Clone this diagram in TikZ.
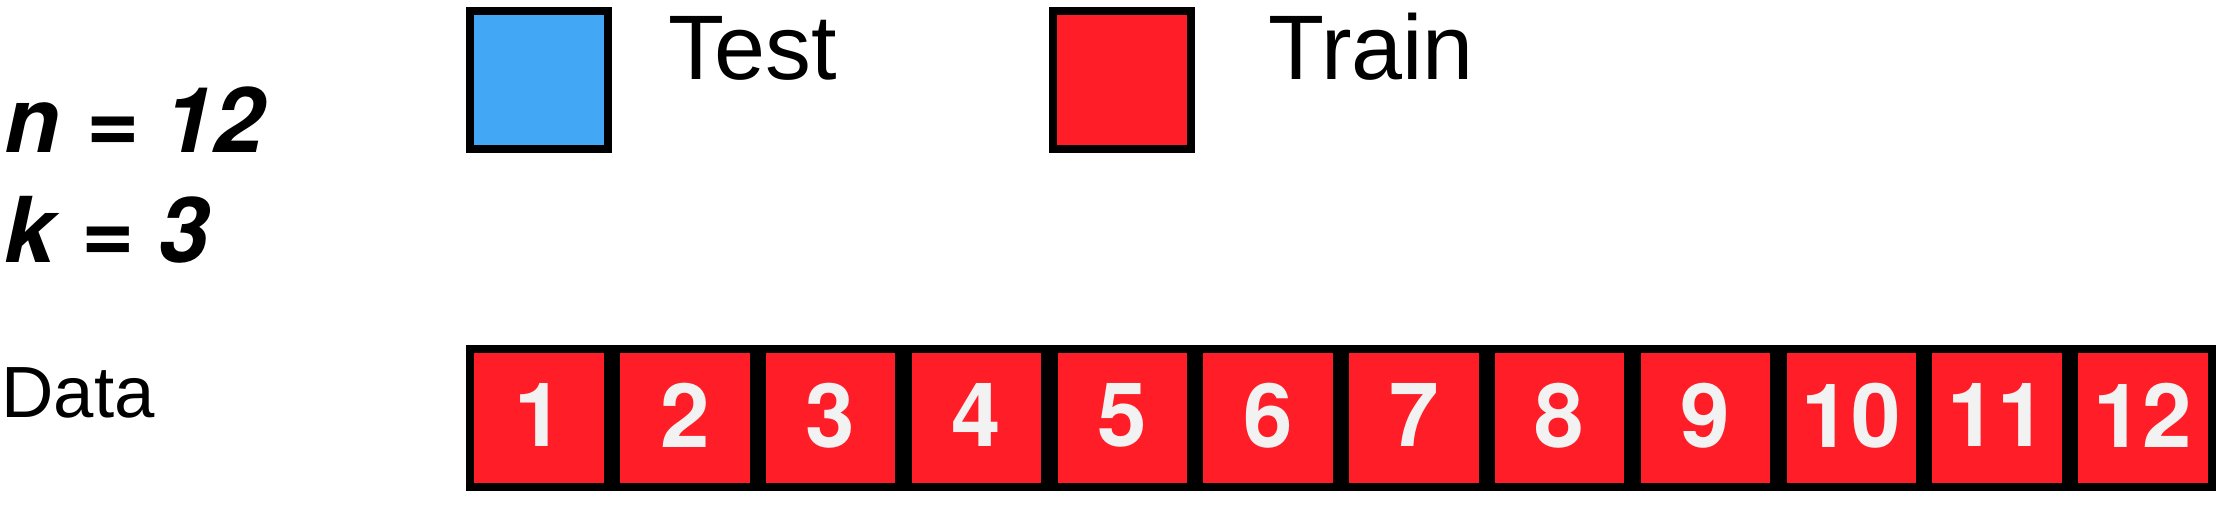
\documentclass[tikz,border=0pt]{standalone}
\usepackage{fontspec}
\setmainfont{Liberation Sans}
\newfontfamily\heros{TeX Gyre Heros}
\usepackage{tikz}
\usetikzlibrary{positioning}
\definecolor{testblue}{HTML}{42A7F5}
\definecolor{trainred}{HTML}{FF1E27}
\definecolor{digitwhite}{HTML}{F2F2F2}
\tikzset{
    cell/.style={
           rectangle,
           draw=black, line width=0.166cm,
           minimum size=2.754cm,
           inner sep=0pt,
           fill=trainred,
           text=digitwhite,
           text depth=0.12cm,
           font=\heros\fontsize{50.6}{60}\selectfont\bfseries,
           },
    keybox/.style={
           cell,
           },
    keytext/.style={
           anchor=base west,
           inner sep=0pt,
           font=\fontsize{52.2}{62}\selectfont,
           },
    param/.style={
           anchor=base west,
           inner sep=0pt,
           font=\heros\fontsize{51.7}{62}\selectfont\bfseries\itshape,
           },
}

\begin{document}
\begin{tikzpicture}[x=0.02cm,y=-0.02cm]
        \useasboundingbox (0,0) rectangle (2216,508);

        % PARAMETERS
        \node[param] (NVAL) at (4,152) {n = 12};
        \node[param] (KVAL) at (4,262) {k = 3};

        % LEGEND
        % Test box and its text, Train box to the right of it
        \node[keybox, fill=testblue] (KEY_TEST) at (539,80) {};
        \node[keytext] (KEY_TEST_TXT) at (668,79) {Test};
        \node[keybox,
            right of=KEY_TEST,
            node distance=11.66cm,
            anchor=center] (KEY_TRAIN) {};
        \node[keytext] (KEY_TRAIN_TXT) at (1268,79) {Train};

        % DATA ROW
        \node[keytext, font=\fontsize{41.3}{50}\selectfont] (DATA_TXT) at (1,417) {Data};
        \node[cell] (CELL1) at (539,418) {1};
        \node[cell, right of=CELL1, node distance=2.9166cm] (CELL2) {2};
        \node[cell, right of=CELL2, node distance=2.9166cm] (CELL3) {3};
        \node[cell, right of=CELL3, node distance=2.9166cm] (CELL4) {4};
        \node[cell, right of=CELL4, node distance=2.9166cm] (CELL5) {5};
        \node[cell, right of=CELL5, node distance=2.9166cm] (CELL6) {6};
        \node[cell, right of=CELL6, node distance=2.9166cm] (CELL7) {7};
        \node[cell, right of=CELL7, node distance=2.9166cm] (CELL8) {8};
        \node[cell, right of=CELL8, node distance=2.9166cm] (CELL9) {9};
        \node[cell, right of=CELL9, node distance=2.9166cm] (CELL10) {10};
        \node[cell, right of=CELL10, node distance=2.9166cm] (CELL11) {11};
        \node[cell, right of=CELL11, node distance=2.9166cm] (CELL12) {12};
\end{tikzpicture}
\end{document}
